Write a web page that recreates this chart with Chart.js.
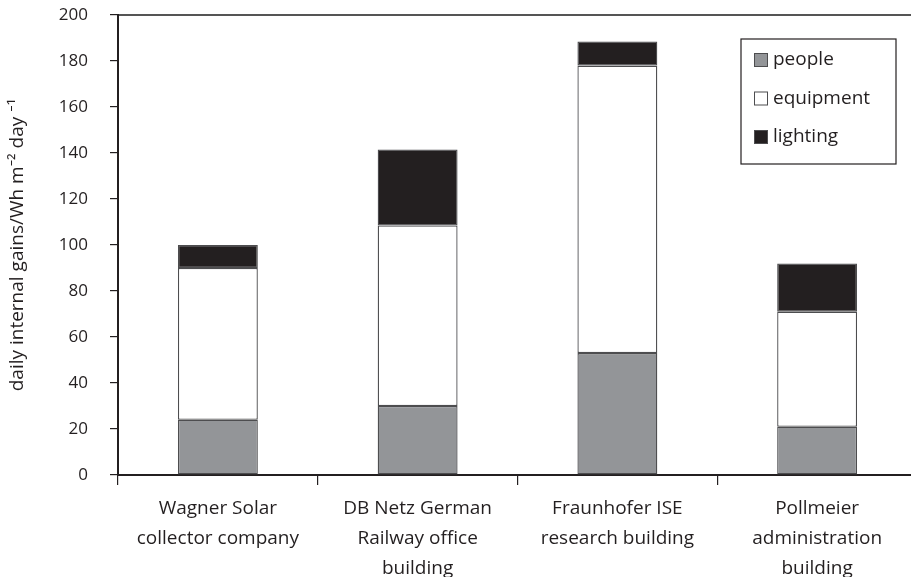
<!DOCTYPE html>
<html>
<head>
<meta charset="utf-8">
<script src="https://cdn.jsdelivr.net/npm/chart.js@4.4.1/dist/chart.umd.min.js"></script>
<style>
  html, body { margin: 0; padding: 0; background: #fff; overflow: hidden; }
  #wrap { width: 918px; height: 577px; }
</style>
</head>
<body>
<div id="wrap"><canvas id="myChart" width="918" height="577"></canvas></div>
<script>
// buildings (multi-line labels)
const categories = [
    ['Wagner Solar', 'collector company'],
    ['DB Netz German', 'Railway office', 'building'],
    ['Fraunhofer ISE', 'research building'],
    ['Pollmeier', 'administration', 'building']
];
// Wh m-2 day-1, stacked
const people = [24, 30, 53, 21];
const equipment = [66, 78.5, 125, 50];
const lighting = [10, 33, 10.5, 21];
const yTicks = [0, 20, 40, 60, 80, 100, 120, 140, 160, 180, 200];

const FONT = "'Open Sans', 'Noto Sans', sans-serif";
const INK = '#231f20';
const EDGE = '#4d4d4f';

// boxed legend drawn inside the plot, upper right
const boxLegend = {
    id: 'boxLegend',
    afterDraw(chart) {
        const ctx = chart.ctx;
        const area = chart.chartArea;
        const w = 155, h = 125;
        const x = area.right - 21 - w;
        const y = area.top + 24;
        ctx.save();
        ctx.strokeStyle = INK;
        ctx.lineWidth = 1.2;
        ctx.strokeRect(x, y, w, h);
        ctx.font = '19px ' + FONT;
        ctx.textBaseline = 'middle';
        chart.data.datasets.forEach((ds, i) => {
            const cy = y + 21 + i * 38.5;
            ctx.fillStyle = ds.backgroundColor;
            ctx.fillRect(x + 13, cy - 7, 14, 14);
            ctx.strokeStyle = EDGE;
            ctx.lineWidth = 1;
            ctx.strokeRect(x + 13.5, cy - 6.5, 13, 13);
            ctx.fillStyle = INK;
            ctx.fillText(ds.label, x + 32, cy);
        });
        ctx.restore();
    }
};

const ctx = document.getElementById('myChart').getContext('2d');
const chart = new Chart(ctx, {
    type: 'bar',
    data: {
        labels: categories,
        datasets: [
            { label: 'people', data: people, backgroundColor: '#939598' },
            { label: 'equipment', data: equipment, backgroundColor: '#ffffff' },
            { label: 'lighting', data: lighting, backgroundColor: '#231f20' }
        ].map(ds => Object.assign(ds, {
            borderColor: EDGE,
            borderWidth: 1.3,
            borderSkipped: false,
            categoryPercentage: 1,
            barPercentage: 0.4
        }))
    },
    options: {
        responsive: false,
        animation: false,
        layout: { padding: { top: 15, right: 1, left: 0, bottom: 0 } },
        plugins: {
            legend: { display: false },
            tooltip: { enabled: false }
        },
        scales: {
            x: {
                stacked: true,
                offset: true,
                grid: {
                    display: true,
                    offset: true,
                    drawOnChartArea: false,
                    drawTicks: true,
                    tickLength: 10,
                    color: INK,
                    lineWidth: 1.2
                },
                border: { display: true, color: INK, width: 2 },
                ticks: {
                    color: INK,
                    padding: 9,
                    maxRotation: 0,
                    autoSkip: false,
                    font: { family: FONT, size: 19, lineHeight: 1.56 }
                },
                afterFit(scale) { scale.height = 102; }
            },
            xTop: {
                type: 'category',
                position: 'top',
                labels: categories.map((c, i) => String(i)),
                grid: { display: false },
                ticks: { display: false },
                border: { display: true, color: '#555', width: 2 },
                afterFit(scale) { scale.height = 0; }
            },
            y: {
                stacked: true,
                min: 0,
                max: 200,
                afterBuildTicks(scale) {
                    scale.ticks = yTicks.map(v => ({ value: v }));
                },
                grid: {
                    display: true,
                    drawOnChartArea: false,
                    drawTicks: true,
                    tickLength: 8,
                    color: INK,
                    lineWidth: 1.2
                },
                border: { display: true, color: INK, width: 2 },
                ticks: {
                    color: INK,
                    padding: 22,
                    font: { family: FONT, size: 17 }
                },
                title: {
                    display: true,
                    text: 'daily internal gains/Wh m\u207B\u00B2 day \u207B\u00B9',
                    color: INK,
                    padding: { top: 6, bottom: 0 },
                    font: { family: FONT, size: 19 }
                },
                afterFit(scale) {
                    scale.width = 118;
                    // tick padding otherwise leaks into the space above the plot
                    scale.paddingTop = 0;
                    scale.paddingBottom = 0;
                }
            }
        }
    },
    plugins: [boxLegend]
});
</script>
</body>
</html>
